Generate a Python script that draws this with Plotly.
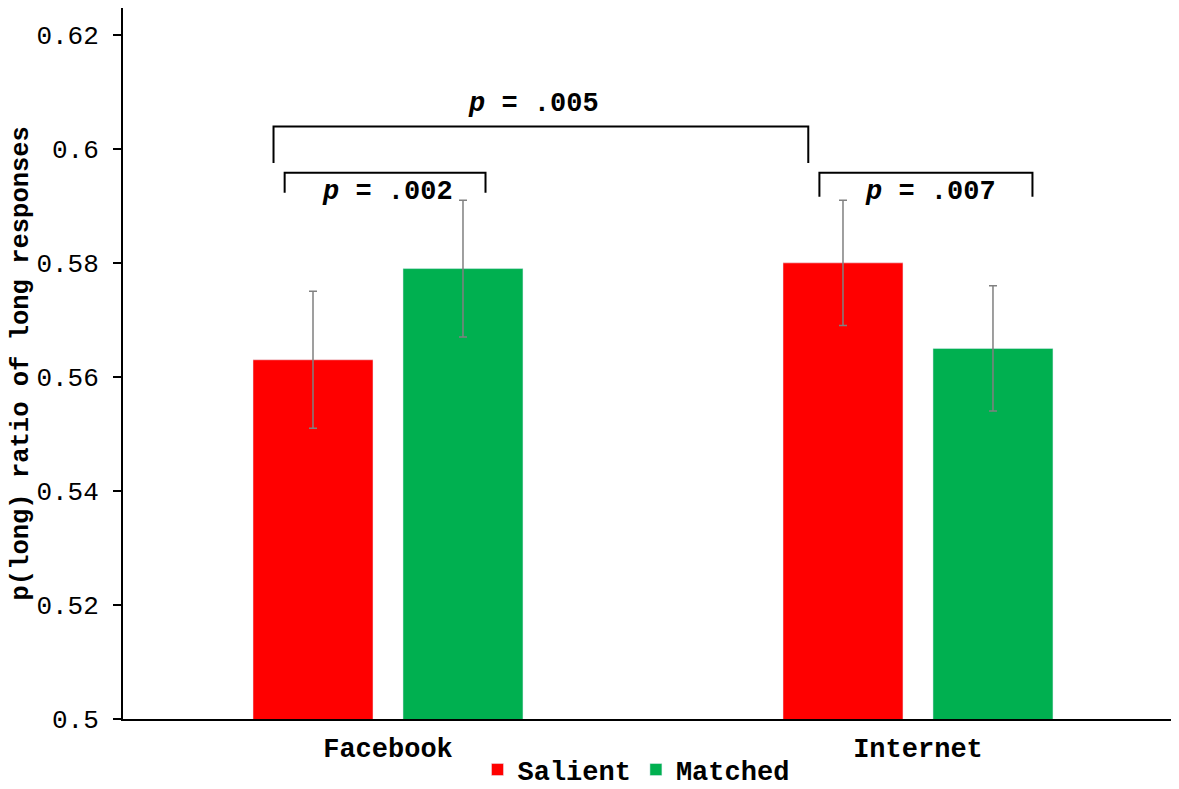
import plotly.graph_objects as go

categories = ["Facebook", "Internet"]
salient = [0.563, 0.580]
matched = [0.579, 0.565]
salient_err = [0.012, 0.011]
matched_err = [0.012, 0.011]
ytick_vals = [0.5, 0.52, 0.54, 0.56, 0.58, 0.6, 0.62]
ytick_text = ["0.5", "0.52", "0.54", "0.56", "0.58", "0.6", "0.62"]

# significance brackets: (x_left, x_right, y_top, y_bottom_left, y_bottom_right, label, label_x, label_y)
brackets = [
    (-0.216, 0.793, 0.6039, 0.5975, 0.5975, "p = .005", 0.274, 0.6079),
    (-0.195, 0.184, 0.5958, 0.5923, 0.5923, "p = .002", 0.0, 0.5925),
    (0.814, 1.216, 0.5958, 0.5916, 0.5916, "p = .007", 1.023, 0.5925),
]

FONT = "Liberation Mono"

fig = go.Figure()
fig.add_trace(go.Bar(
    name="Salient", x=categories, y=salient, marker_color="#FF0000",
    error_y=dict(type="data", array=salient_err, color="#808080", thickness=1.5, width=4),
))
fig.add_trace(go.Bar(
    name="Matched", x=categories, y=matched, marker_color="#00B050",
    error_y=dict(type="data", array=matched_err, color="#808080", thickness=1.5, width=4),
))

for x0, x1, yt, yb0, yb1, label, lx, ly in brackets:
    fig.add_shape(type="path",
                  path=f"M {x0},{yb0} L {x0},{yt} L {x1},{yt} L {x1},{yb1}",
                  xref="x", yref="y", line=dict(color="black", width=2))
    txt = label.replace("p", "<i>p</i>", 1)
    fig.add_annotation(x=lx, y=ly, xref="x", yref="y", text=f"<b>{txt}</b>",
                       showarrow=False, font=dict(family=FONT, size=27, color="black"))

fig.add_annotation(x=-0.0964, y=0.5, xref="paper", yref="paper",
                   xanchor="center", yanchor="middle",
                   text="<b>p(long) ratio of long responses</b>", textangle=-90,
                   showarrow=False, font=dict(family=FONT, size=25.5, color="black"))

fig.update_layout(
    width=1163, height=781,
    margin=dict(l=115, r=0, t=0, b=70, autoexpand=False),
    paper_bgcolor="white", plot_bgcolor="white",
    barmode="group", bargap=0.434, bargroupgap=0.2,
    font=dict(family=FONT, color="black"),
    showlegend=True,
    legend=dict(orientation="h", x=0.4895, xanchor="center", y=-0.0717, yanchor="middle",
                font=dict(family=FONT, size=27, weight="bold"), itemwidth=30,
                bgcolor="rgba(0,0,0,0)"),
    xaxis=dict(range=[-0.5, 1.4774], showline=True, linecolor="black", linewidth=2,
               ticks="", showgrid=False, zeroline=False, ticklabelstandoff=4,
               tickfont=dict(family=FONT, size=27, weight="bold", color="black")),
    yaxis=dict(range=[0.5, 0.6247], showline=True, linecolor="black", linewidth=2,
               ticks="outside", ticklen=8, tickwidth=2, tickcolor="black",
               tickvals=ytick_vals, ticktext=ytick_text, ticklabelstandoff=9,
               showgrid=False, zeroline=False,
               tickfont=dict(family=FONT, size=26, color="black")),
)

fig.write_html("out.html")
